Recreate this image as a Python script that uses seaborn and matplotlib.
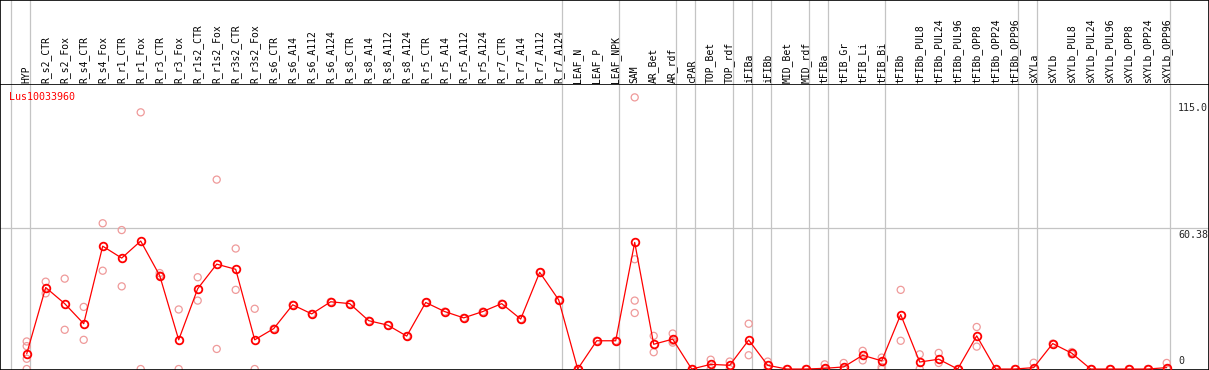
import numpy as np
import pandas as pd
import seaborn as sns
import matplotlib.pyplot as plt

# Sample names (in plot order)
samples = ["HYP", "R_s2_CTR", "R_s2_Fox", "R_s4_CTR", "R_s4_Fox", "R_r1_CTR", "R_r1_Fox",
           "R_r3_CTR", "R_r3_Fox", "R_r1s2_CTR", "R_r1s2_Fox", "R_r3s2_CTR", "R_r3s2_Fox",
           "R_s6_CTR", "R_s6_A14", "R_s6_A112", "R_s6_A124", "R_s8_CTR", "R_s8_A14",
           "R_s8_A112", "R_s8_A124", "R_r5_CTR", "R_r5_A14", "R_r5_A112", "R_r5_A124",
           "R_r7_CTR", "R_r7_A14", "R_r7_A112", "R_r7_A124", "LEAF_N", "LEAF_P", "LEAF_NPK",
           "SAM", "AR_Bet", "AR_rdf", "cPAR", "TOP_Bet", "TOP_rdf", "iFIBa", "iFIBb",
           "MID_Bet", "MID_rdf", "tFIBa", "tFIB_Gr", "tFIB_Li", "tFIB_Bi", "tFIBb",
           "tFIBb_PUL8", "tFIBb_PUL24", "tFIBb_PUL96", "tFIBb_OPP8", "tFIBb_OPP24",
           "tFIBb_OPP96", "sXYLa", "sXYLb", "sXYLb_PUL8", "sXYLb_PUL24", "sXYLb_PUL96",
           "sXYLb_OPP8", "sXYLb_OPP24", "sXYLb_OPP96"]

# number of samples in each tissue group (separated by grey lines)
group_sizes = [1, 28, 3, 3, 1, 2, 1, 1, 2, 1, 3, 7, 1, 7]

# mean expression per sample
means = [6.5, 34.9, 28.0, 19.4, 52.6, 47.5, 54.8, 40.0, 12.5, 34.4, 44.9, 42.7, 12.5,
         17.3, 27.5, 23.6, 28.8, 28.0, 20.7, 18.8, 14.1, 28.5, 24.6, 21.9, 24.6,
         28.0, 21.4, 41.4, 29.6, 0.0, 12.1, 12.1,
         54.2, 10.6, 12.8, 0.0, 2.0, 1.6, 12.4, 1.6, 0.0, 0.0, 0.3, 0.9, 5.9, 3.5,
         23.3, 3.0, 4.2, 0.0, 14.2, 0.0, 0.0, 0.6, 10.9, 6.8, 0.0, 0.0, 0.0, 0.0, 0.6]

# individual replicates per sample
replicates = [[11.8, 9.8, 4.4, 0], [37.4, 32.4], [38.7, 16.8], [26.6, 12.5], [62.4, 42.1],
              [59.5, 35.4], [109.9, 0], [41.1, 40.0], [25.5, 0], [39.3, 29.3],
              [81.1, 8.6], [51.6, 33.9], [25.8, 0],
              [17.3], [27.5], [23.6], [28.8], [28.0], [20.7], [18.8], [14.1],
              [28.5], [24.6], [21.9], [24.6], [28.0], [21.4], [41.4], [29.6],
              [0], [12.1], [12.1],
              [116.3, 47.0, 29.3, 24.0], [14.2, 7.2], [15.2, 11.3, 12.0], [0],
              [4.0, 0], [3.2, 0], [19.4, 5.9], [3.2, 0], [0], [0],
              [2.0, 0, 0], [2.6, 0], [7.8, 3.7], [4.9, 0.9, 0],
              [33.9, 12.1], [6.3, 0], [6.9, 2.6], [0], [18.0, 9.6], [0], [0],
              [2.7, 0], [10.9], [7.3, 6.3], [0], [0], [0], [0], [2.6, 0]]

gene = "Lus10033960"
ytick_vals = [115.0, 60.38, 0]
ytick_text = ["115.0", "60.38", "0"]

pos = np.arange(len(samples))
mean_df = pd.DataFrame({"pos": pos, "value": means})
rep_df = pd.DataFrame([(i, v) for i, r in enumerate(replicates) for v in r],
                      columns=["pos", "value"])

sns.set_style("white")
plt.rcParams["font.family"] = ["DejaVu Sans Mono"]

W, H = 1209, 370
fig = plt.figure(figsize=(W / 100, H / 100), dpi=100)
ax_head = fig.add_axes([0, 285 / H, 1, 85 / H])
ax = fig.add_axes([0, 0.5 / H, 1, 284.5 / H])

# pixel mapping: sample i sits at 26.7 + 19*i px
xlim = (-26.7 / 19, (W - 26.7) / 19)
for a in (ax, ax_head):
    a.set_xlim(*xlim)
    a.set_xticks([])
    a.set_yticks([])
    for s in a.spines.values():
        s.set_color("black")
        s.set_linewidth(1.2)
ax.spines["top"].set_visible(False)
ax.set_ylim(-0.2, 121.6)
ax_head.set_ylim(0, 1)

# group separators
bounds = np.cumsum([0] + group_sizes) - 1 + 0.19
for b in bounds:
    ax.axvline(b, color="#c4c4c4", lw=0.9, zorder=0)
    ax_head.axvline(b, color="#c4c4c4", lw=0.9, zorder=0)
ax.axhline(60.38, color="#c4c4c4", lw=0.9, zorder=0)

# replicates
sns.scatterplot(data=rep_df, x="pos", y="value", ax=ax, marker="o", s=26,
                legend=False, zorder=2)
ax.collections[-1].set_facecolor("none")
ax.collections[-1].set_edgecolor("#ef9a9a")
ax.collections[-1].set_linewidth(0.9)

# mean line
sns.lineplot(data=mean_df, x="pos", y="value", ax=ax, color="red", lw=0.9,
             marker="o", markersize=5.5, markerfacecolor="none",
             markeredgecolor="red", markeredgewidth=1.3, zorder=3)
ax.set_xlabel("")
ax.set_ylabel("")

# sample labels
for i, name in enumerate(samples):
    ax_head.text(i, 2 / 85, name, rotation=90, ha="center", va="bottom",
                 fontsize=7, color="black")

ax.text(9 / W, 116.5, gene, transform=ax.get_yaxis_transform(), color="red",
        fontsize=7.2, va="center", ha="left")
for v, t in zip(ytick_vals, ytick_text):
    if v == 0:
        ax.text(1178 / W, 1.3, t, transform=ax.get_yaxis_transform(),
                fontsize=7.2, va="bottom", ha="left")
    else:
        ax.text(1178 / W, v - 0.9, t, transform=ax.get_yaxis_transform(),
                fontsize=7.2, va="top", ha="left")

fig.savefig("out.png", dpi=100)
